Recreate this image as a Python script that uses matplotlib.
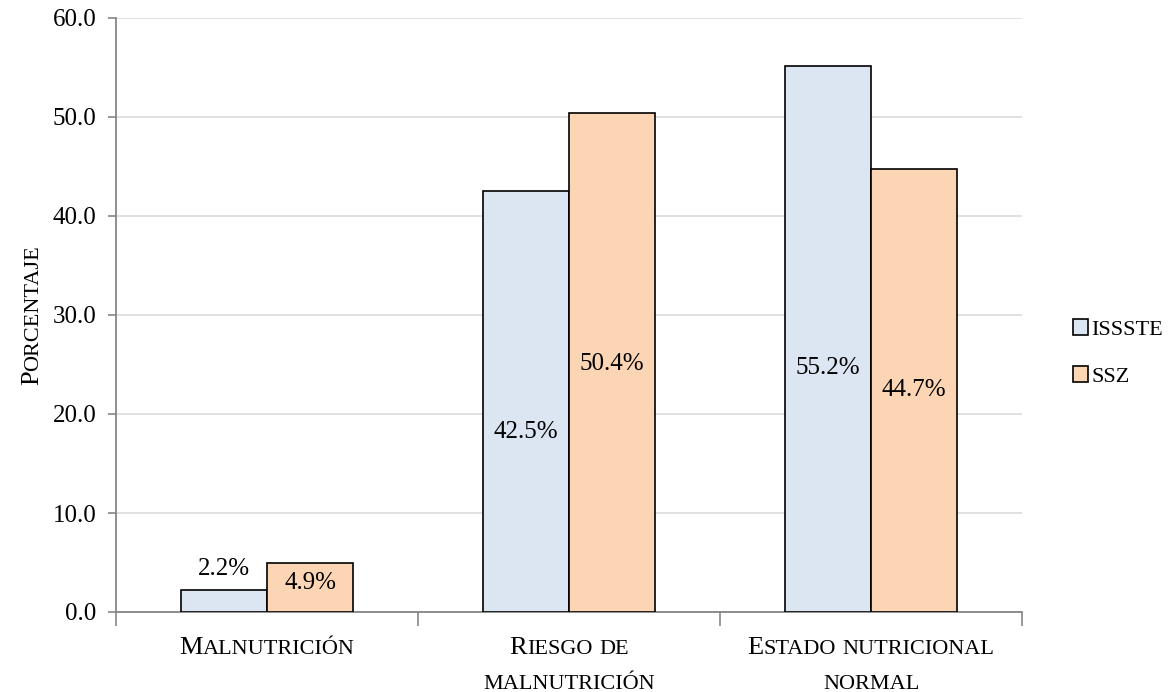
import matplotlib.pyplot as plt
from matplotlib.transforms import IdentityTransform
import numpy as np

categories = ["Malnutrición", "Riesgo de\nmalnutrición", "Estado nutricional\nnormal"]
series = ["ISSSTE", "SSZ"]
issste = [2.2, 42.5, 55.2]
ssz = [4.9, 50.4, 44.7]
# where Excel put the data labels (data units)
issste_label_y = [4.3, 18.2, 24.6]
ssz_label_y = [2.9, 25.1, 22.4]

colors = ["#dce6f2", "#fcd5b5"]
FONT = "Liberation Serif"
BIG, SMALL = 18, 15
CAP, SC = 19, 16

plt.rcParams['font.family'] = [FONT, 'DejaVu Serif']

fig = plt.figure(figsize=(11.69, 6.92), dpi=100)
ax = fig.add_axes([116 / 1169, 1 - 612 / 692, 906 / 1169, 594 / 692])

x = np.arange(len(categories))
w = 0.285
b1 = ax.bar(x - w / 2, issste, w, color=colors[0], edgecolor="black", linewidth=1.2, label=series[0], zorder=3)
b2 = ax.bar(x + w / 2, ssz, w, color=colors[1], edgecolor="black", linewidth=1.2, label=series[1], zorder=3)

for i in range(len(categories)):
    ax.text(x[i] - w / 2, issste_label_y[i], f"{issste[i]:.1f}%", ha="center", va="center", fontsize=BIG, zorder=4)
    ax.text(x[i] + w / 2, ssz_label_y[i], f"{ssz[i]:.1f}%", ha="center", va="center", fontsize=BIG, zorder=4)

ax.set_xlim(-0.5, 2.5)
ax.set_ylim(0, 60)
ax.set_yticks(np.arange(0, 61, 10))
ax.set_yticklabels([f"{v:.1f}" for v in np.arange(0, 61, 10)], fontsize=BIG)
ax.set_xticks([-0.5, 0.5, 1.5, 2.5])
ax.set_xticklabels([])
ax.tick_params(axis="x", length=10, color="#868686", width=1.2)
ax.tick_params(axis="y", length=6, color="#868686", width=1.2, pad=8)
ax.yaxis.grid(True, color="#d9d9d9", linewidth=1.1, zorder=0)
ax.set_axisbelow(True)
for s in ["top", "right"]:
    ax.spines[s].set_visible(False)
for s in ["left", "bottom"]:
    ax.spines[s].set_color("#868686")
    ax.spines[s].set_linewidth(1.3)

fig.legend(handles=[b1, b2], labels=series, loc="center left",
           bbox_to_anchor=(1066 / 1169, 1 - 353 / 692), frameon=False,
           fontsize=16, handlelength=0.7, handleheight=0.7,
           handletextpad=0.15, labelspacing=1.2, borderpad=0.2, borderaxespad=0.1)

renderer = fig.canvas.get_renderer()


def runs(text):
    # split into (string, size) pieces to fake small caps
    out = []
    for ch in text:
        size = SC if ch.islower() else CAP
        if out and out[-1][1] == size:
            out[-1][0] += ch.upper()
        else:
            out.append([ch.upper(), size])
    return out


def smallcaps(x0, y0, text, rotation=0):
    pieces = runs(text)
    widths = []
    for s, size in pieces:
        t = fig.text(0, 0, s, fontsize=size, transform=IdentityTransform())
        widths.append(t.get_window_extent(renderer).width)
        t.remove()
    pos = -sum(widths) / 2
    for (s, size), wd in zip(pieces, widths):
        if rotation == 0:
            fig.text(x0 + pos, y0, s, fontsize=size, ha="left", va="baseline",
                     transform=IdentityTransform())
        else:
            fig.text(x0, y0 + pos, s, fontsize=size, ha="left", va="baseline",
                     rotation=90, rotation_mode="anchor", transform=IdentityTransform())
        pos += wd


for i, cat in enumerate(categories):
    cx = ax.transData.transform((x[i], 0))[0]
    for j, line in enumerate(cat.split("\n")):
        smallcaps(cx, 38 - 35 * j, line)

smallcaps(38, 692 - 315, "Porcentaje", rotation=90)

fig.savefig("out.png", dpi=100)
